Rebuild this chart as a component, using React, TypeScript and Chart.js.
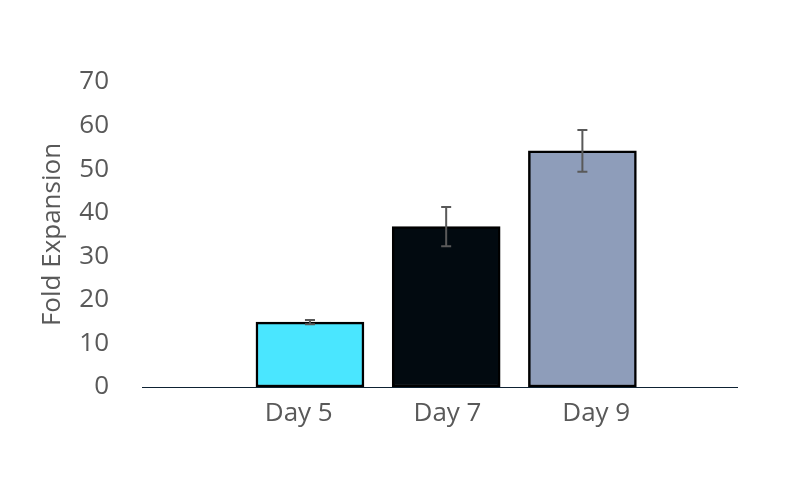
import React, { useEffect, useRef } from 'react';
import { Chart, registerables } from 'chart.js';

Chart.register(...registerables);

const days = ['Day 5', 'Day 7', 'Day 9'];
const foldExpansion = [14.9, 36.8, 54.2];
const errors = [0.5, 4.5, 4.8];
const barColors = ['#4ae6ff', '#020a10', '#8e9dba'];
const yTicks = [0, 10, 20, 30, 40, 50, 60, 70];

const FONT = 'Open Sans';
const TEXT = '#595959';

// draws the +/- error whiskers on top of the bars
const errorBars = {
  id: 'errorBars',
  afterDatasetsDraw(chart: Chart) {
    const { ctx } = chart;
    const meta = chart.getDatasetMeta(0);
    const y = chart.scales.y;
    ctx.save();
    ctx.strokeStyle = TEXT;
    ctx.lineWidth = 2;
    meta.data.forEach((bar: any, i: number) => {
      const x = bar.x;
      const top = y.getPixelForValue(foldExpansion[i] + errors[i]);
      const bottom = y.getPixelForValue(foldExpansion[i] - errors[i]);
      ctx.beginPath();
      ctx.moveTo(x, top);
      ctx.lineTo(x, bottom);
      ctx.moveTo(x - 5, top);
      ctx.lineTo(x + 5, top);
      ctx.moveTo(x - 5, bottom);
      ctx.lineTo(x + 5, bottom);
      ctx.stroke();
    });
    ctx.restore();
  },
};

const App: React.FC = () => {
  const chartRef = useRef<HTMLCanvasElement>(null);

  useEffect(() => {
    if (!chartRef.current) return;
    const chart = new Chart(chartRef.current, {
      type: 'bar',
      data: {
        datasets: [
          {
            data: days.map((_, i) => ({ x: i + 1, y: foldExpansion[i] })),
            backgroundColor: barColors,
            borderColor: '#000000',
            borderWidth: 2.5,
            borderSkipped: false,
            barThickness: 108,
            xAxisID: 'x',
            yAxisID: 'y',
          },
        ],
      },
      options: {
        responsive: false,
        animation: false,
        layout: { padding: { left: 30, right: 63, top: 82, bottom: 0 } },
        plugins: {
          legend: { display: false },
          tooltip: { enabled: false },
        },
        scales: {
          x: {
            type: 'linear',
            display: false,
            offset: false,
            min: -0.233,
            max: 4.135,
          },
          xl: {
            type: 'category',
            position: 'bottom',
            labels: ['', ...days, ''],
            offset: false,
            grid: { display: false, drawTicks: false },
            border: { display: true, color: '#0e2233', width: 1 },
            ticks: {
              autoSkip: false,
              maxRotation: 0,
              padding: 11,
              labelOffset: 8,
              color: TEXT,
              font: { family: FONT, size: 26 },
            },
            afterFit: (scale: any) => {
              scale.height = 90;
            },
          },
          y: {
            min: 0,
            max: 70,
            grid: { display: false, drawTicks: false },
            border: { display: false },
            afterBuildTicks: (scale: any) => {
              scale.ticks = yTicks.map((v) => ({ value: v }));
            },
            ticks: {
              padding: 33,
              color: TEXT,
              font: { family: FONT, size: 26 },
            },
            title: {
              display: true,
              text: 'Fold Expansion',
              color: TEXT,
              font: { family: FONT, size: 26 },
              padding: { top: 7, bottom: 0 },
            },
            afterFit: (scale: any) => {
              scale.width = 112;
            },
          },
        },
      },
      plugins: [errorBars],
    });
    return () => {
      chart.destroy();
    };
  }, []);

  return (
    <div style={{ position: 'absolute', left: 0, top: 0, width: 800, height: 477, background: '#ffffff' }}>
      <canvas ref={chartRef} width={800} height={477} />
    </div>
  );
};

export default App;
